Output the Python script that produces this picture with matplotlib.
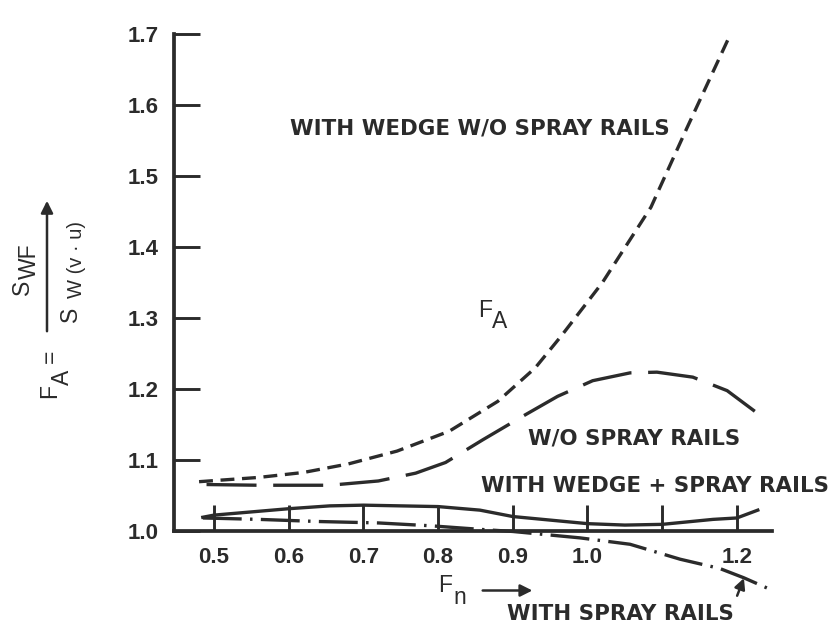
import matplotlib
matplotlib.use("Agg")
import matplotlib.pyplot as plt

plt.rcParams["lines.scale_dashes"] = False

INK = "#2b2b2b"

# ─── data ────────────────────────────────────────────────────────────────────
# with wedge, w/o spray rails (short dashes)
wedge_x = [0.48, 0.56, 0.62, 0.68, 0.745, 0.815, 0.88, 0.93, 0.965, 1.02,
           1.085, 1.133, 1.19]
wedge_y = [1.070, 1.076, 1.083, 1.095, 1.113, 1.141, 1.183, 1.230, 1.275,
           1.350, 1.456, 1.567, 1.696]

# w/o spray rails (long dashes)
norails_x = [0.49, 0.56, 0.655, 0.72, 0.77, 0.81, 0.86, 0.915, 0.96, 1.007,
             1.057, 1.093, 1.141, 1.187, 1.224]
norails_y = [1.066, 1.065, 1.065, 1.071, 1.082, 1.097, 1.129, 1.163, 1.190,
             1.212, 1.223, 1.224, 1.217, 1.198, 1.169]

# with wedge + spray rails (solid)
both_x = [0.485, 0.5, 0.6, 0.655, 0.7, 0.8, 0.856, 0.9, 1.0, 1.05, 1.1,
          1.168, 1.2, 1.228]
both_y = [1.020, 1.023, 1.032, 1.036, 1.037, 1.035, 1.030, 1.021, 1.011,
          1.009, 1.010, 1.017, 1.019, 1.030]

# with spray rails (dash-dot)
rails_x = [0.485, 0.56, 0.64, 0.72, 0.79, 0.856, 0.9, 0.96, 0.99, 1.057,
           1.124, 1.177, 1.209, 1.248]
rails_y = [1.019, 1.017, 1.014, 1.012, 1.008, 1.003, 1.000, 0.994, 0.991,
           0.982, 0.961, 0.948, 0.935, 0.917]

xticks = [0.5, 0.6, 0.7, 0.8, 0.9, 1.0, 1.1, 1.2]
xtick_labels = ["0.5", "0.6", "0.7", "0.8", "0.9", "1.0", "", "1.2"]
yticks = [1.0, 1.1, 1.2, 1.3, 1.4, 1.5, 1.6, 1.7]
ytick_labels = ["1.0", "1.1", "1.2", "1.3", "1.4", "1.5", "1.6", "1.7"]

# ─── figure ──────────────────────────────────────────────────────────────────
fig = plt.figure(figsize=(8.33, 6.34), dpi=100)
ax = fig.add_axes([0.2031, 0.0271, 0.7353, 0.9423])
ax.set_xlim(0.44, 1.26)
ax.set_ylim(0.88, 1.72)

lw = 2.4
ax.plot(wedge_x, wedge_y, color=INK, lw=lw, dashes=(10, 5.5))
ax.plot(norails_x, norails_y, color=INK, lw=lw, dashes=(36, 12))
ax.plot(both_x, both_y, color=INK, lw=lw)
ax.plot(rails_x, rails_y, color=INK, lw=lw, dashes=(28, 6, 1.8, 6))

# axes: left + bottom spines only, crossing at (0.446, 1.0)
for s in ("top", "right"):
    ax.spines[s].set_visible(False)
ax.spines["left"].set_position(("data", 0.446))
ax.spines["left"].set_bounds(1.0, 1.7)
ax.spines["bottom"].set_position(("data", 1.0))
ax.spines["bottom"].set_bounds(0.446, 1.247)
for s in ("left", "bottom"):
    ax.spines[s].set_linewidth(2.7)
    ax.spines[s].set_color(INK)

tick_font = dict(family="Liberation Sans", weight="bold", size=16)
ax.set_xticks(xticks)
ax.set_xticklabels(xtick_labels, fontdict=tick_font, color=INK)
ax.set_yticks(yticks)
ax.set_yticklabels(ytick_labels, fontdict=tick_font, color=INK)
ax.tick_params(direction="in", length=19, width=2.1, color=INK, pad=11)

# ─── curve labels ────────────────────────────────────────────────────────────
lab = dict(family="DejaVu Sans", weight="bold", size=15.4, color=INK,
           va="center", ha="left")
ax.text(0.6017, 1.567, "WITH WEDGE W/O SPRAY RAILS", **lab)
ax.text(0.9203, 1.1314, "W/O SPRAY RAILS", **lab)
ax.text(0.858, 1.0636, "WITH WEDGE + SPRAY RAILS", **lab)
ax.text(0.892, 0.8838, "WITH SPRAY RAILS", **lab)
ax.annotate("", xy=(1.2108, 0.938), xytext=(1.199, 0.906),
            arrowprops=dict(arrowstyle="-|>", color=INK, lw=1.8,
                            mutation_scale=16))

sym = dict(family="Liberation Sans", size=16.5, color=INK, va="center",
           ha="left")
ax.text(0.853, 1.31, "F", **sym)
ax.text(0.872, 1.295, "A", **sym)

# F_n with arrow under the x axis
ax.text(0.800, 0.924, "F", **sym)
ax.text(0.820, 0.907, "n", **sym)
ax.annotate("", xy=(0.930, 0.917), xytext=(0.856, 0.917),
            arrowprops=dict(arrowstyle="-|>", color=INK, lw=1.8,
                            mutation_scale=18))

# ─── y-axis label: F_A = S_WF / S_W(v.u), fraction bar drawn as an arrow ────
def fpos(px, py):
    return px / 833, 1 - py / 634

rot = dict(family="Liberation Sans", size=16.5, color=INK, rotation=90,
           ha="center", va="center")
fig.text(*fpos(50, 391), "F", **rot)
fig.text(*fpos(62, 377), "A", **rot)
fig.text(*fpos(50, 356), "=", **rot)
fig.text(*fpos(22, 287), "S", **rot)
fig.text(*fpos(29, 261), "WF", **rot)
fig.text(*fpos(70, 314), "S", **rot)
fig.text(*fpos(76, 259), "W (v \u00b7 u)", **dict(rot, size=14.5))
fig.add_artist(matplotlib.patches.FancyArrowPatch(
    fpos(47, 334), fpos(47, 198), transform=fig.transFigure,
    arrowstyle="-|>", mutation_scale=18, color=INK, lw=1.8))

fig.savefig("out.png", dpi=100, facecolor="white")
